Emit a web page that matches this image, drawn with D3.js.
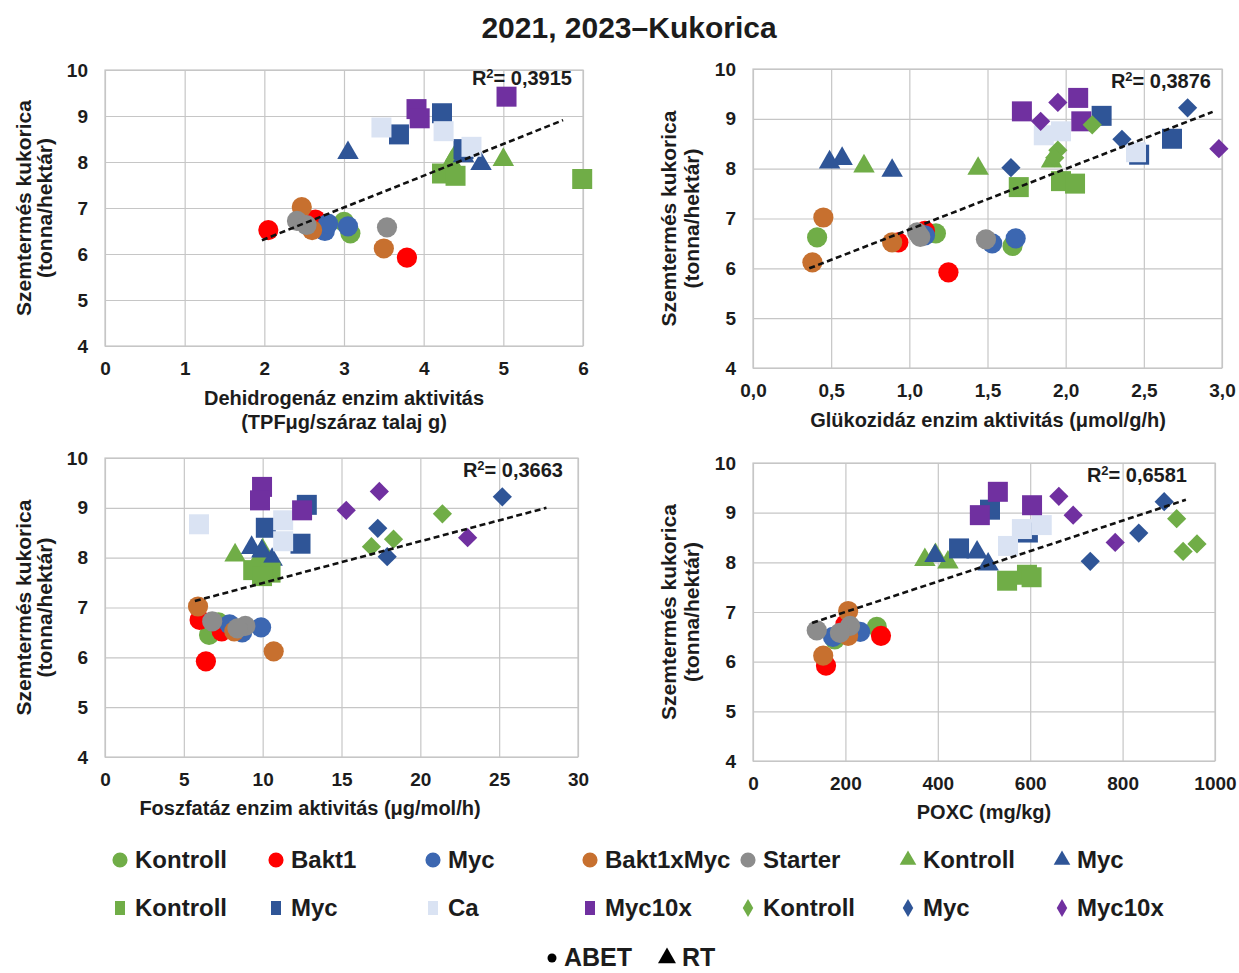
<!DOCTYPE html>
<html><head><meta charset="utf-8">
<script src="https://cdn.jsdelivr.net/npm/d3@7"></script>
<style>
body{margin:0;background:#fff}
svg{display:block}
text{font-family:"Liberation Sans",Arial,sans-serif;font-weight:bold;fill:#1c1c1c}
</style>
</head><body><svg id="c" width="1239" height="973"></svg>
<script>
// ---------------- DATA ----------------
const chartTitle = "2021, 2023–Kukorica";
const seriesNames = ["Kontroll","Bakt1","Myc","Bakt1xMyc","Starter","Kontroll","Myc","Kontroll","Myc","Ca","Myc10x","Kontroll","Myc","Myc10x"];
// yield (tonna/hektár) of each point, shared by all four panels
const yieldValues = [
  [6.62, 6.70, 6.45],   // Kontroll circle
  [6.52, 5.92, 6.75],   // Bakt1
  [6.50, 6.66, 6.60],   // Myc circle
  [7.02, 6.52, 6.12],   // Bakt1xMyc
  [6.72, 6.63, 6.58],   // Starter
  [8.05, 8.00, 8.15],   // Kontroll triangle
  [8.20, 7.96, 8.13],   // Myc triangle
  [7.75, 7.70, 7.63],   // Kontroll square
  [9.06, 8.60, 8.28],   // Myc square
  [8.75, 8.67, 8.33],   // Ca square
  [9.42, 9.15, 8.95],   // Myc10x square
  [8.88, 8.37, 8.22],   // Kontroll diamond
  [9.22, 8.59, 8.02],   // Myc diamond
  [9.33, 8.95, 8.40]    // Myc10x diamond
];
const dehidrogenazX = [
  [2.75, 3.00, 3.08], [2.05, 3.79, 2.64], [2.76, 2.80, 3.05], [2.47, 2.60, 3.50], [2.41, 2.53, 3.54],
  [5.00, 4.35, 4.40], [3.05, 4.72, 4.50],
  [4.23, 4.40, 5.99], [4.23, 3.69, 4.50], [3.47, 4.25, 4.60], [5.04, 3.91, 3.95],
  [null, null, null], [null, null, null], [null, null, null]
];
const glukozidazX = [
  [0.41, 1.17, 1.66], [0.93, 1.25, 1.10], [1.53, 1.10, 1.68], [0.45, 0.89, 0.38], [1.05, 1.07, 1.49],
  [0.71, 1.44, 1.91], [0.57, 0.89, 0.49],
  [1.97, 2.06, 1.70], [2.23, 2.68, 2.47], [1.97, 1.86, 2.45], [2.08, 1.72, 2.10],
  [2.17, 1.95, 1.93], [2.78, 2.36, 1.65], [1.95, 1.84, 2.98]
];
const foszfatazX = [
  [7.5, 7.2, 6.6], [7.4, 6.4, 6.0], [8.7, 7.9, 9.9], [5.9, 8.2, 10.7], [6.8, 8.9, 8.4],
  [8.25, 9.8, 10.0], [9.3, 10.6, 9.95],
  [9.4, 10.5, 9.96], [12.8, 10.2, 12.4], [11.3, 5.96, 11.3], [9.96, 9.83, 12.5],
  [21.4, 18.3, 16.9], [25.2, 17.3, 17.9], [17.4, 15.3, 23.0]
];
const poxcX = [
  [215, 268, 177], [277, 158, 200], [173, 215, 232], [206, 206, 152], [210, 138, 188],
  [372, 422, 395], [485, 509, 394],
  [593, 603, 550], [513, 595, 446], [625, 582, 552], [530, 604, 491],
  [917, 961, 931], [890, 835, 730], [662, 693, 784]
];
const panelXValues = [dehidrogenazX, glukozidazX, foszfatazX, poxcX];
const xDomains = [[0, 6], [0, 3], [0, 30], [0, 1000]];
const xTickValues = [[0,1,2,3,4,5,6], [0,0.5,1,1.5,2,2.5,3], [0,5,10,15,20,25,30], [0,200,400,600,800,1000]];
const yDomain = [4, 10];
const yTickValues = [4,5,6,7,8,9,10];
const xTitles = [["Dehidrogenáz enzim aktivitás", "(TPFμg/száraz talaj g)"], ["Glükozidáz enzim aktivitás (μmol/g/h)"], ["Foszfatáz enzim aktivitás (μg/mol/h)"], ["POXC (mg/kg)"]];
const yTitle = ["Szemtermés kukorica", "(tonna/hektár)"];
const rSquared = ["0,3915", "0,3876", "0,3663", "0,6581"];
// trend line endpoints [x0, y0, x1, y1]
const trendLines = [[1.97, 6.30, 5.75, 8.91], [0.36, 6.00, 2.94, 9.14], [5.7, 7.13, 28.0, 9.00], [128, 6.78, 937, 9.26]];
const legendFooter = ["ABET", "RT"];

// ---------------- STYLE / LAYOUT ----------------
const seriesShapes = ["circle","circle","circle","circle","circle","triangle","triangle","square","square","square","square","diamond","diamond","diamond"];
const seriesColors = ["#70AD47","#FF0000","#3C67B1","#C7702F","#8C8C8C","#70AD47","#2F5597","#70AD47","#2F5597","#DAE3F3","#7030A0","#70AD47","#2F5597","#7030A0"];
const layouts = [
  {l:105, r:583, t:70, b:346, yt:[23,44], xtX:344, xtY:[405,429], rX:572, rY:85, tickFmt: d3.format("d")},
  {l:753, r:1222, t:69, b:368, yt:[668,691], xtX:988, xtY:[427], rX:1211, rY:88, tickFmt: v => d3.format(".1f")(v).replace(".", ",")},
  {l:105, r:578, t:458, b:757, yt:[23,44], xtX:310, xtY:[815], rX:563, rY:477, tickFmt: d3.format("d")},
  {l:753, r:1215, t:463, b:761, yt:[668,691], xtX:984, xtY:[819], rX:1187, rY:482, tickFmt: d3.format("d")}
];
const gridColor = "#C6C6C6";

const svg = d3.select("#c");

svg.append("text").attr("x", 629).attr("y", 38).attr("text-anchor", "middle")
  .style("font-size", "30px").attr("fill", "#111").text(chartTitle);

function symbolPath(shape) {
  if (shape === "circle") return d3.symbol(d3.symbolCircle, 320)();
  if (shape === "square") return d3.symbol(d3.symbolSquare, 400)();
  if (shape === "triangle") return d3.symbol(d3.symbolTriangle, 200)();
  return d3.symbol(d3.symbolSquare, 185)();
}

layouts.forEach((L, pi) => {
  const x = d3.scaleLinear().domain(xDomains[pi]).range([L.l, L.r]);
  const y = d3.scaleLinear().domain(yDomain).range([L.b, L.t]);
  const g = svg.append("g");

  const xa = g.append("g").attr("transform", `translate(0,${L.b})`)
    .call(d3.axisBottom(x).tickValues(xTickValues[pi]).tickFormat(L.tickFmt).tickSize(-(L.b - L.t)).tickPadding(16));
  const ya = g.append("g").attr("transform", `translate(${L.l},0)`)
    .call(d3.axisLeft(y).tickValues(yTickValues).tickFormat(d3.format("d")).tickSize(-(L.r - L.l)).tickPadding(17));
  [xa, ya].forEach(a => {
    a.select(".domain").remove();
    a.selectAll("line").attr("stroke", gridColor).attr("stroke-width", 1.2);
    a.selectAll("text").style("font-size", "19px").attr("fill", "#1c1c1c").style("font-family", '"Liberation Sans",Arial,sans-serif').style("font-weight", "bold");
  });
  g.append("rect").attr("x", L.l).attr("y", L.t).attr("width", L.r - L.l).attr("height", L.b - L.t)
    .attr("fill", "none").attr("stroke", gridColor).attr("stroke-width", 1.2);

  // y title
  yTitle.forEach((line, li) => {
    g.append("text").attr("transform", `translate(${L.yt[li]},${(L.t + L.b) / 2}) rotate(-90)`)
      .attr("text-anchor", "middle").attr("dominant-baseline", "central")
      .style("font-size", "21px").text(line);
  });
  // x title
  xTitles[pi].forEach((line, li) => {
    g.append("text").attr("x", L.xtX).attr("y", L.xtY[li]).attr("text-anchor", "middle")
      .style("font-size", "20px").text(line);
  });

  // points
  const xs = panelXValues[pi];
  seriesNames.forEach((name, si) => {
    const pts = yieldValues[si].map((v, k) => ({x: xs[si][k], y: v})).filter(d => d.x !== null);
    g.append("g").selectAll("path").data(pts).join("path")
      .attr("d", symbolPath(seriesShapes[si]))
      .attr("transform", d => `translate(${x(d.x)},${y(d.y)})` + (seriesShapes[si] === "diamond" ? " rotate(45)" : ""))
      .attr("fill", seriesColors[si]);
  });

  // trend line
  const tl = trendLines[pi];
  g.append("line").attr("x1", x(tl[0])).attr("y1", y(tl[1])).attr("x2", x(tl[2])).attr("y2", y(tl[3]))
    .attr("stroke", "#111").attr("stroke-width", 2.6).attr("stroke-dasharray", "6,3.5");

  // R^2
  const rt = g.append("text").attr("x", L.rX).attr("y", L.rY).attr("text-anchor", "end").style("font-size", "20px");
  rt.append("tspan").text("R");
  rt.append("tspan").attr("dy", -7).style("font-size", "13px").text("2");
  rt.append("tspan").attr("dy", 7).text("= " + rSquared[pi]);
});

// ---------------- LEGEND ----------------
const legCols = [120, 276, 433, 590, 748, 908, 1062];
const legRows = [860, 908];
const legendShapesSmall = { circle: d3.symbol(d3.symbolCircle, 180)(), triangle: d3.symbol(d3.symbolTriangle, 120)(), diamond: d3.symbol(d3.symbolDiamond, 95)() };
seriesNames.forEach((name, si) => {
  const row = si < 7 ? 0 : 1;
  const col = si < 7 ? si : si - 7;
  const cx = legCols[col], cy = legRows[row];
  const shape = seriesShapes[si];
  if (shape === "square") {
    svg.append("rect").attr("x", cx - 5).attr("y", cy - 7).attr("width", 10).attr("height", 14).attr("fill", seriesColors[si]);
  } else {
    svg.append("path").attr("d", legendShapesSmall[shape]).attr("transform", `translate(${cx},${cy})`).attr("fill", seriesColors[si]);
  }
  svg.append("text").attr("x", cx + 15).attr("y", cy + 8).style("font-size", "24px").text(name);
});
// footer
svg.append("circle").attr("cx", 552).attr("cy", 958).attr("r", 4.5).attr("fill", "#000");
svg.append("text").attr("x", 564).attr("y", 966).style("font-size", "25px").attr("fill", "#000").text(legendFooter[0]);
svg.append("path").attr("d", d3.symbol(d3.symbolTriangle, 140)()).attr("transform", "translate(667,958)").attr("fill", "#000");
svg.append("text").attr("x", 682).attr("y", 966).style("font-size", "25px").attr("fill", "#000").text(legendFooter[1]);
</script>
</body></html>
